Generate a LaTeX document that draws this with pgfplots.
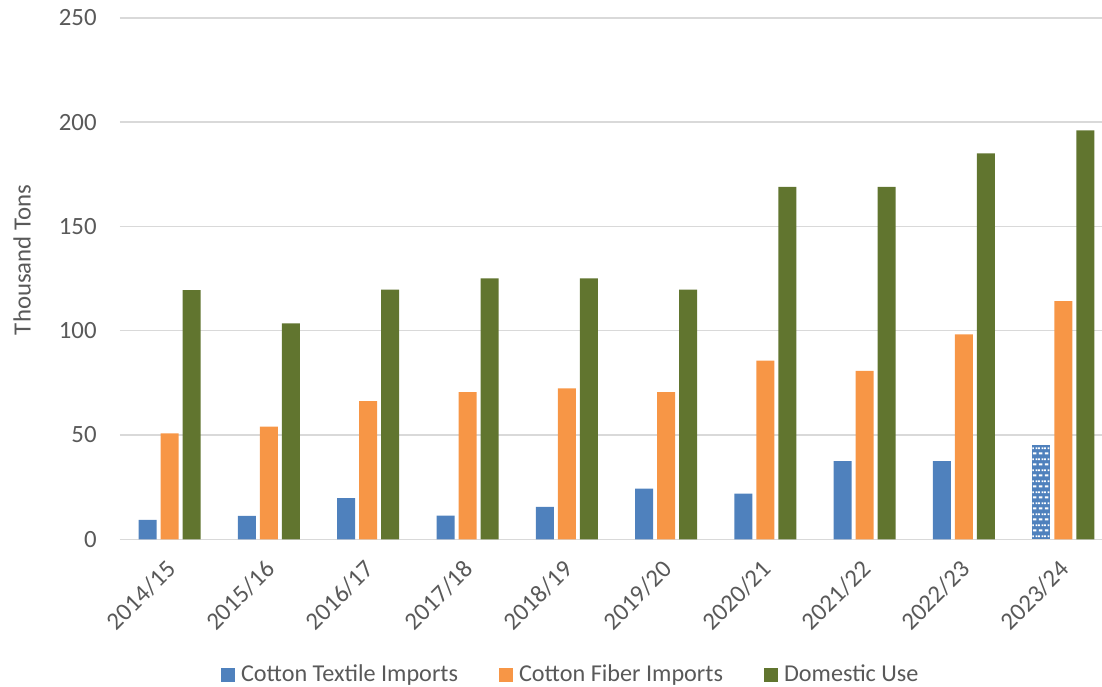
\documentclass[border=0pt]{standalone}
\usepackage{pgfplots}
\pgfplotsset{compat=1.18}
\usepackage{fontspec}
\setmainfont{Carlito}
\usetikzlibrary{patterns}

\definecolor{cblue}{HTML}{4F81BD}
\definecolor{corange}{HTML}{F79646}
\definecolor{cgreen}{HTML}{61752F}
\definecolor{cgrid}{HTML}{D9D9D9}
\definecolor{ctext}{HTML}{595959}

% white dashes, staggered rows, for the estimate bar
\pgfdeclarepatternformonly{dashbrick}{\pgfpointorigin}{\pgfpoint{3pt}{5.5pt}}{\pgfpoint{3pt}{5.5pt}}{
  \pgfpathrectangle{\pgfpoint{0.5pt}{0.9pt}}{\pgfpoint{2pt}{1pt}}
  \pgfpathrectangle{\pgfpoint{0pt}{3.65pt}}{\pgfpoint{1pt}{1pt}}
  \pgfpathrectangle{\pgfpoint{2pt}{3.65pt}}{\pgfpoint{1pt}{1pt}}
  \pgfusepath{fill}
}

\begin{document}
\fontsize{12.4}{14.8}\selectfont
\begin{tikzpicture}
\begin{axis}[
    scale only axis,
    width=491pt, height=260.75pt,
    ybar, bar width=9pt,
    xmin=-0.5, xmax=9.39,
    ymin=0, ymax=250,
    ytick={0,50,...,250},
    xtick={0,...,9},
    xticklabels={2014/15,2015/16,2016/17,2017/18,2018/19,2019/20,2020/21,2021/22,2022/23,2023/24},
    axis line style={draw=none},
    tick style={draw=none},
    ymajorgrids, grid style={cgrid, line width=0.75pt},
    /pgf/number format/assume math mode=true,
    ticklabel style={text=ctext},
    yticklabel style={anchor=east, inner sep=0pt, xshift=-11.5pt},
    xticklabel style={xshift=0.9pt, yshift=-8.6pt, rotate=45, anchor=east, inner sep=0pt},
    ylabel={Thousand Tons},
    every axis y label/.style={at={([xshift=-49pt]rel axis cs:0,0.5356)}, rotate=90, anchor=center, text=ctext},
    legend columns=3,
    legend style={at={([xshift=1.5pt,yshift=-1pt]rel axis cs:0.458,-0.257)}, anchor=center, draw=none, fill=none,
        text=ctext, inner sep=0pt, font=\fontsize{12.1}{14.5}\selectfont,
        nodes={inner xsep=3pt},
        /tikz/every even column/.append style={column sep=17.5pt}},
    legend image code/.code={\fill[#1] (0pt,-3.5pt) rectangle (7pt,3.5pt);},
]
\addplot[fill=cblue, draw=none, bar shift=-11pt] coordinates {
    (0,9.3) (1,11.2) (2,19.7) (3,11.3) (4,15.5) (5,24.3) (6,21.9) (7,37.5) (8,37.5)
};
\addplot[fill=corange, draw=none, bar shift=0pt] coordinates {
    (0,50.8) (1,54.0) (2,66.2) (3,70.5) (4,72.4) (5,70.5) (6,85.6) (7,80.7) (8,98.3) (9,114.2)
};
\addplot[fill=cgreen, draw=none, bar shift=11pt] coordinates {
    (0,119.5) (1,103.5) (2,119.7) (3,125.1) (4,125.1) (5,119.7) (6,168.9) (7,168.9) (8,185.0) (9,196.0)
};
\addplot[forget plot, fill=cblue, draw=none, bar shift=-11pt,
    postaction={pattern=dashbrick, pattern color=white}] coordinates {
    (9,45.2)
};
\legend{Cotton Textile Imports, Cotton Fiber Imports, Domestic Use}
\coordinate (ll) at (rel axis cs:0,0);
\coordinate (ur) at (rel axis cs:1,1);
\end{axis}
\pgfresetboundingbox
\path[use as bounding box] ([xshift=-60pt,yshift=-73.35pt]ll) rectangle ([yshift=8.9pt]ur);
\end{tikzpicture}
\end{document}
